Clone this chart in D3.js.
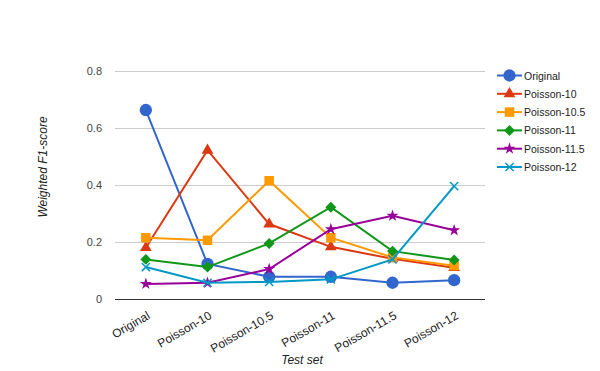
<!DOCTYPE html>
<html>
<head>
<meta charset="utf-8">
<script src="https://cdn.jsdelivr.net/npm/d3@7"></script>
<style>
  body { margin: 0; background: #fff; }
  svg { font-family: Arial, 'Liberation Sans', sans-serif; }
</style>
</head>
<body>
<svg id="chart" width="600" height="371"></svg>
<script>
const categories = ['Original', 'Poisson-10', 'Poisson-10.5', 'Poisson-11', 'Poisson-11.5', 'Poisson-12']
const seriesNames = ['Original', 'Poisson-10', 'Poisson-10.5', 'Poisson-11', 'Poisson-11.5', 'Poisson-12']

const original = [0.663, 0.123, 0.078, 0.078, 0.057, 0.066]
const poisson10 = [0.180, 0.522, 0.263, 0.183, 0.141, 0.110]
const poisson105 = [0.215, 0.206, 0.415, 0.215, 0.146, 0.117]
const poisson11 = [0.139, 0.112, 0.195, 0.322, 0.168, 0.137]
const poisson115 = [0.053, 0.057, 0.105, 0.245, 0.292, 0.241]
const poisson12 = [0.112, 0.057, 0.060, 0.069, 0.139, 0.396]

const yTicks = [0, 0.2, 0.4, 0.6, 0.8]

const colors = ['#3366cc', '#dc3912', '#ff9900', '#109618', '#990099', '#0099c6']
// diamond is a square turned by 45 degrees, the x a stroked cross
const symbols = [d3.symbolCircle, d3.symbolTriangle, d3.symbolSquare, d3.symbolSquare, d3.symbolStar, d3.symbolX]
const symbolSizes = [120, 60, 90, 60, 45, 45]
const symbolRotate = [0, 0, 0, 45, 0, 0]

const series = [original, poisson10, poisson105, poisson11, poisson115, poisson12]
  .map((values, i) => ({
    name: seriesNames[i], values, color: colors[i],
    symbol: symbols[i], size: symbolSizes[i], rotate: symbolRotate[i], stroked: symbols[i] === d3.symbolX
  }))

const svg = d3.select('svg#chart')
const margin = { left: 115, right: 115, top: 71, bottom: 72 }
const width = 600
const height = 371

const x = d3.scaleBand()
  .domain(categories)
  .range([margin.left, width - margin.right])

const y = d3.scaleLinear()
  .domain([0, 0.8])
  .range([height - margin.bottom, margin.top])

// gridlines
svg.append('g')
  .selectAll('line')
  .data(yTicks)
  .join('line')
  .attr('x1', margin.left)
  .attr('x2', width - margin.right)
  .attr('y1', d => y(d) + 0.5)
  .attr('y2', d => y(d) + 0.5)
  .attr('stroke', d => d === 0 ? '#333' : '#ccc')
  .attr('stroke-width', 1)

// y axis labels
svg.append('g')
  .selectAll('text')
  .data(yTicks)
  .join('text')
  .attr('x', margin.left - 13)
  .attr('y', d => y(d) + 4)
  .attr('text-anchor', 'end')
  .attr('font-size', 11)
  .attr('fill', '#444')
  .text(d => d === 0 ? '0' : d3.format('.1f')(d))

// x axis labels
svg.append('g')
  .selectAll('text')
  .data(categories)
  .join('text')
  .attr('transform', d => `translate(${x(d) + x.bandwidth() / 2 + 5},${height - margin.bottom + 19}) rotate(-30)`)
  .attr('text-anchor', 'end')
  .attr('font-size', 12)
  .attr('fill', '#222')
  .text(d => d)

// axis titles
svg.append('text')
  .attr('x', 302)
  .attr('y', 364)
  .attr('text-anchor', 'middle')
  .attr('font-size', 12)
  .attr('font-style', 'italic')
  .attr('fill', '#222')
  .text('Test set')

svg.append('text')
  .attr('transform', 'translate(47,167) rotate(-90)')
  .attr('text-anchor', 'middle')
  .attr('font-size', 12)
  .attr('font-style', 'italic')
  .attr('fill', '#222')
  .text('Weighted F1-score')

const line = d3.line()
  .x((d, i) => x(categories[i]) + x.bandwidth() / 2)
  .y(d => y(d))

function drawMarker (sel, s) {
  sel.attr('d', d3.symbol(s.symbol, s.size))
    .attr('fill', s.stroked ? 'none' : s.color)
    .attr('stroke', s.stroked ? s.color : 'none')
    .attr('stroke-width', s.stroked ? 1.5 : 0)
}

const g = svg.append('g')
series.forEach(s => {
  const sg = g.append('g')
  sg.append('path')
    .attr('d', line(s.values))
    .attr('fill', 'none')
    .attr('stroke', s.color)
    .attr('stroke-width', 2)
  sg.selectAll('path.marker')
    .data(s.values)
    .join('path')
    .attr('class', 'marker')
    .attr('transform', (d, i) => `translate(${x(categories[i]) + x.bandwidth() / 2},${y(d)}) rotate(${s.rotate})`)
    .call(drawMarker, s)
})

// legend
const legend = svg.append('g')
  .selectAll('g')
  .data(series)
  .join('g')
  .attr('transform', (d, i) => `translate(497,${75.5 + i * 18.3})`)

legend.append('line')
  .attr('x1', 0)
  .attr('x2', 25)
  .attr('stroke', d => d.color)
  .attr('stroke-width', 2)
legend.each(function (d) {
  d3.select(this).append('path')
    .attr('transform', `translate(12.5,0) rotate(${d.rotate})`)
    .call(drawMarker, d)
})
legend.append('text')
  .attr('x', 27)
  .attr('y', 4)
  .attr('font-size', 10.5)
  .attr('fill', '#222')
  .text(d => d.name)
</script>
</body>
</html>
